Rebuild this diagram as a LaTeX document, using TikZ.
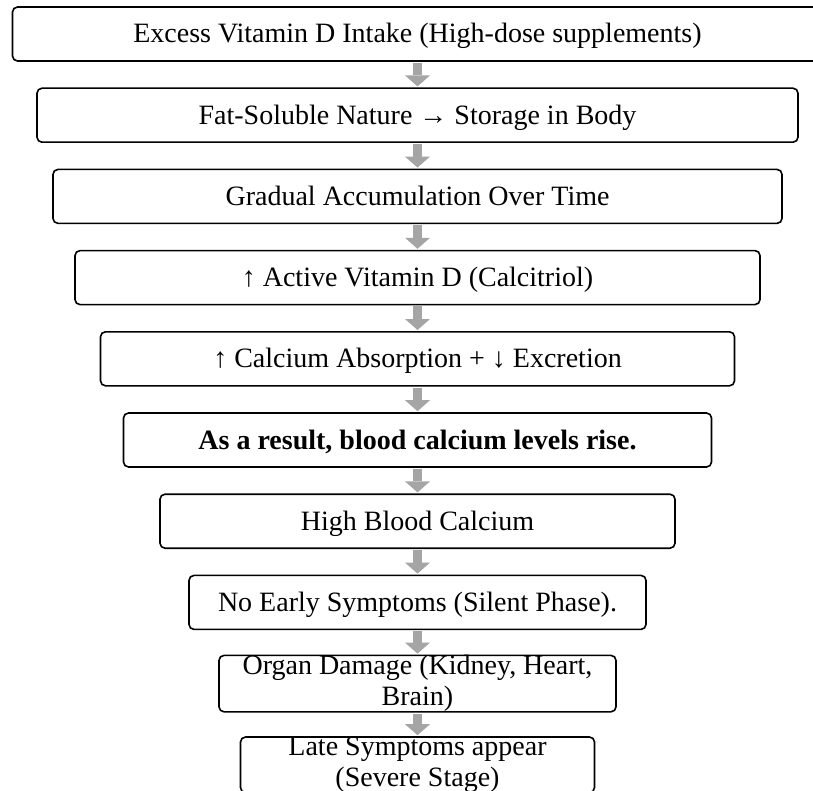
\documentclass[tikz,border=0pt]{standalone}
\usepackage{fontspec}
\setmainfont{Liberation Serif}
\usetikzlibrary{arrows.meta}

\definecolor{arrowgray}{HTML}{A5A5A5}
\tikzset{
  stepbox/.style={draw, line width=1.6pt, rounded corners=5pt, minimum height=54pt,
                  inner ysep=0pt, align=center, font=\fontsize{28}{31}\selectfont},
  onerow/.style={text height=22pt, text depth=4pt},
  flowarrow/.style={draw=arrowgray, line width=9pt,
                    -{Triangle[width=25pt,length=11pt,line width=0pt]},
                    shorten <=1pt, shorten >=1pt}
}

\begin{document}
\begin{tikzpicture}[x=1pt,y=-1pt]
          \useasboundingbox (0,0) rectangle (813,791);
          \node[stepbox, onerow, minimum width=810pt] (excess) at (417.5,34)
                {Excess Vitamin D Intake (High-dose supplements)};
          \node[stepbox, onerow, minimum width=761pt] (fatsol) at (417.5,115.2)
                {Fat-Soluble Nature → Storage in Body};
          \node[stepbox, onerow, minimum width=729pt] (accum) at (417.5,196.4)
                {Gradual Accumulation Over Time};
          \node[stepbox, onerow, minimum width=685pt] (calcitriol) at (417.5,277.6)
                {↑ Active Vitamin D (Calcitriol)};
          \node[stepbox, onerow, minimum width=634pt] (absorb) at (417.5,358.8)
                {↑ Calcium Absorption + ↓ Excretion};
          \node[stepbox, onerow, minimum width=588pt] (result) at (417.5,440)
                {\textbf{As a result, blood calcium levels rise.}};
          \node[stepbox, onerow, minimum width=515pt] (highca) at (417.5,521.2)
                {High Blood Calcium};
          \node[stepbox, onerow, minimum width=457pt] (silent) at (417.5,602.4)
                {No Early Symptoms (Silent Phase).};
          % text runs over the box edges here
          \node[stepbox, minimum width=397pt] (damage) at (417.5,683.6)
                {Organ Damage (Kidney, Heart,\\ Brain)};
          \node[stepbox, minimum width=354pt] (late) at (417.5,764.8)
                {Late Symptoms appear\\ (Severe Stage)};
          \draw[flowarrow] (excess) -- (fatsol);
          \draw[flowarrow] (fatsol) -- (accum);
          \draw[flowarrow] (accum) -- (calcitriol);
          \draw[flowarrow] (calcitriol) -- (absorb);
          \draw[flowarrow] (absorb) -- (result);
          \draw[flowarrow] (result) -- (highca);
          \draw[flowarrow] (highca) -- (silent);
          \draw[flowarrow] (silent.south) -- (damage.north);
          \draw[flowarrow] (damage.south) -- (late.north);
        \end{tikzpicture}
\end{document}
